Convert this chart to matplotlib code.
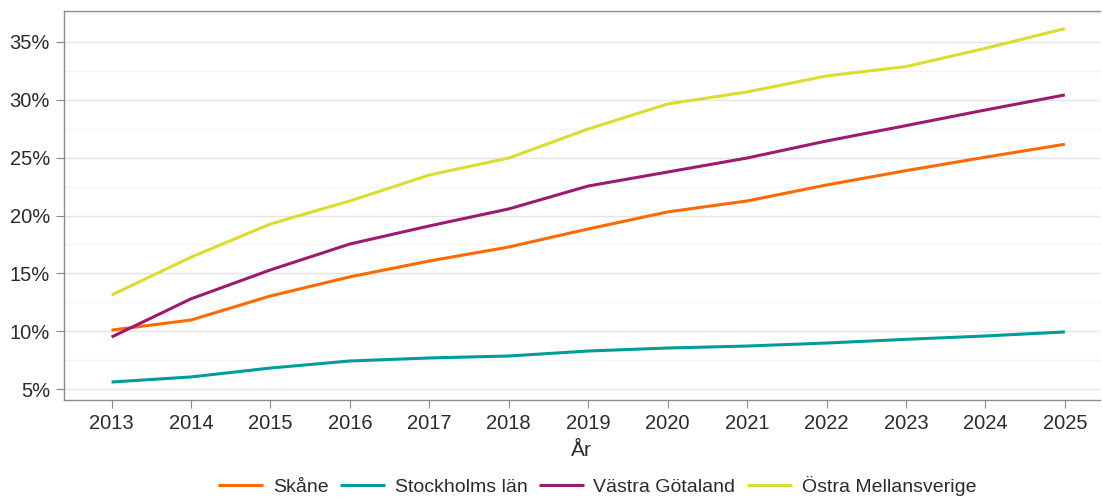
import matplotlib
matplotlib.use("Agg")
import matplotlib.pyplot as plt
from matplotlib.ticker import MultipleLocator, FuncFormatter

years = [2013, 2014, 2015, 2016, 2017, 2018, 2019, 2020, 2021, 2022, 2023, 2024, 2025]
skane = [10.1, 10.97, 13.05, 14.7, 16.07, 17.28, 18.84, 20.31, 21.26, 22.64, 23.88, 25.04, 26.16]
stockholm = [5.61, 6.05, 6.82, 7.43, 7.69, 7.86, 8.29, 8.55, 8.72, 8.98, 9.3, 9.59, 9.94]
vastra = [9.5, 12.8, 15.3, 17.54, 19.1, 20.57, 22.55, 23.76, 24.97, 26.44, 27.77, 29.12, 30.42]
ostra = [13.13, 16.4, 19.27, 21.26, 23.5, 24.97, 27.48, 29.64, 30.68, 32.06, 32.87, 34.45, 36.15]
series_names = ["Skåne", "Stockholms län", "Västra Götaland", "Östra Mellansverige"]
colors = ["#FF6A00", "#009B9B", "#9B1B6E", "#DCDC30"]

plt.rcParams['font.family'] = ['Liberation Sans', 'DejaVu Sans']
text_color = "#2b2b2b"

fig = plt.figure(figsize=(11.02, 4.97), dpi=100)
ax = fig.add_axes([0.058, 0.195, 0.940, 0.783])

for name, vals, c in zip(series_names, [skane, stockholm, vastra, ostra], colors):
    ax.plot(years, vals, color=c, lw=2.2, label=name, solid_capstyle='butt')

ax.set_xlim(2012.4, 2025.44)
ax.set_ylim(4.05, 37.68)
ax.set_xticks(years)
ax.yaxis.set_major_locator(MultipleLocator(5))
ax.yaxis.set_minor_locator(MultipleLocator(2.5))
ax.yaxis.set_major_formatter(FuncFormatter(lambda v, p: f"{v:.0f}%"))
ax.grid(True, which='major', axis='y', color='#e4e4e4', lw=1.0)
ax.grid(True, which='minor', axis='y', color='#f4f4f4', lw=1.0)
ax.set_axisbelow(True)
ax.tick_params(axis='y', which='minor', length=0)
ax.tick_params(axis='both', which='major', length=6, color='#888888', labelsize=14.5,
               labelcolor=text_color, pad=4)

for s in ['left', 'bottom', 'top']:
    ax.spines[s].set_color('#8c8c8c')
    ax.spines[s].set_linewidth(1.0)
ax.spines['right'].set_visible(False)

ax.set_xlabel("År", fontsize=15, color=text_color, labelpad=6)

leg = fig.legend(loc='center', bbox_to_anchor=(0.542, 0.022), ncol=4, frameon=False,
                 prop={'size': 14},
                 handlelength=2.3, handletextpad=0.5, columnspacing=0.6)
for t in leg.get_texts():
    t.set_color(text_color)

fig.savefig("out.png", dpi=100)
